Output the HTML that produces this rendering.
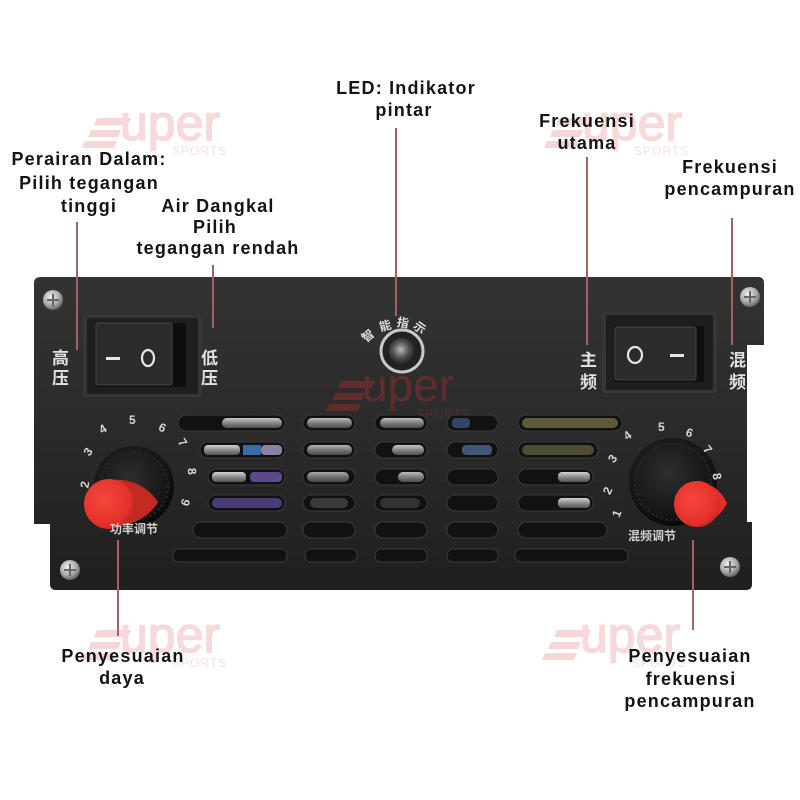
<!DOCTYPE html>
<html><head><meta charset="utf-8"><style>
html,body{margin:0;padding:0;background:#fff;}
svg{display:block;}
.lb{font-family:"Liberation Sans",Arial,sans-serif;font-weight:bold;font-size:18px;fill:#141414;letter-spacing:1.2px;}
.cn{font-family:"Liberation Sans","Noto Sans CJK SC",sans-serif;font-weight:bold;font-size:17px;fill:#e2e2e2;}
.num{font-family:"Liberation Sans",sans-serif;font-weight:bold;font-size:12px;fill:#d8d8d8;}
.cs{font-family:"Liberation Sans","Noto Sans CJK SC",sans-serif;font-size:12px;fill:#d0d0d0;}
.wmt{font-family:"Liberation Sans",sans-serif;font-size:50px;fill:#f6d9d9;stroke:#f6d9d9;stroke-width:1.5px;}
.wms{font-family:"Liberation Sans",sans-serif;font-size:12px;fill:#f1e2e2;letter-spacing:1px;}
</style></head><body>
<svg width="800" height="800" viewBox="0 0 800 800" xmlns="http://www.w3.org/2000/svg">
<defs>
<linearGradient id="pan" x1="0" y1="0" x2="0" y2="1">
<stop offset="0" stop-color="#333"/><stop offset="0.5" stop-color="#2a2a2a"/><stop offset="1" stop-color="#1f1f1f"/>
</linearGradient>
<radialGradient id="screw" cx="0.4" cy="0.35" r="0.7">
<stop offset="0" stop-color="#f2f2f2"/><stop offset="0.6" stop-color="#a8a8a8"/><stop offset="1" stop-color="#555"/>
</radialGradient>
<radialGradient id="knob" cx="0.45" cy="0.4" r="0.6">
<stop offset="0" stop-color="#2e2e2e"/><stop offset="0.8" stop-color="#151515"/><stop offset="1" stop-color="#070707"/>
</radialGradient>
<radialGradient id="red" cx="0.4" cy="0.4" r="0.7">
<stop offset="0" stop-color="#f5473c"/><stop offset="0.75" stop-color="#e3312a"/><stop offset="1" stop-color="#b81f1a"/>
</radialGradient>
<linearGradient id="lt" x1="0" y1="0" x2="0" y2="1">
<stop offset="0" stop-color="#e8e8e8"/><stop offset="0.5" stop-color="#9a9a9a"/><stop offset="1" stop-color="#5a5a5a"/>
</linearGradient>
<radialGradient id="led" cx="0.45" cy="0.45" r="0.6">
<stop offset="0" stop-color="#bbb"/><stop offset="0.5" stop-color="#555"/><stop offset="1" stop-color="#1a1a1a"/>
</radialGradient>
</defs>

<rect width="800" height="800" fill="#fff"/>

<!-- watermarks outside -->
<g>
<g transform="translate(0,0)">
<path d="M97 118 H131 L128 125 H94 Z M91 130 H121 L118 137 H88 Z M85 141 H117 L114 148 H82 Z" fill="#f6d6d6"/>
<text class="wmt" x="120" y="140">uper</text><text class="wms" x="172" y="155">SPORTS</text>
</g>
<g transform="translate(462,0)">
<path d="M97 118 H131 L128 125 H94 Z M91 130 H121 L118 137 H88 Z M85 141 H117 L114 148 H82 Z" fill="#f6d6d6"/>
<text class="wmt" x="120" y="140">uper</text><text class="wms" x="172" y="155">SPORTS</text>
</g>
<g transform="translate(0,512)">
<path d="M97 118 H131 L128 125 H94 Z M91 130 H121 L118 137 H88 Z M85 141 H117 L114 148 H82 Z" fill="#f6d6d6"/>
<text class="wmt" x="120" y="140">uper</text><text class="wms" x="172" y="155">SPORTS</text>
</g>
<g transform="translate(460,512)">
<path d="M97 118 H131 L128 125 H94 Z M91 130 H121 L118 137 H88 Z M85 141 H117 L114 148 H82 Z" fill="#f6d6d6"/>
<text class="wmt" x="120" y="140">uper</text><text class="wms" x="172" y="155">SPORTS</text>
</g>
</g>

<!-- panel -->
<path d="M41 277 H758 Q764 277 764 283 V345 H747 V522 H752 V584 Q752 590 746 590 H56 Q50 590 50 584 V524 H34 V283 Q34 277 41 277 Z" fill="url(#pan)"/>

<!-- panel watermark -->
<g transform="translate(244,263)" opacity="0.85">
<path d="M97 118 H131 L128 125 H94 Z M91 130 H121 L118 137 H88 Z M85 141 H117 L114 148 H82 Z" fill="#6a2c2c"/>
<text x="118" y="138" style="font-family:'Liberation Sans',sans-serif;font-size:46px;fill:#6a2c2c">uper</text>
<text x="172" y="155" style="font-family:'Liberation Sans',sans-serif;font-size:12px;fill:#5a3030;letter-spacing:1px">SPORTS</text>
</g>

<!-- screws -->
<g>
<circle cx="53" cy="300" r="10" fill="url(#screw)"/><path d="M47 300 H59 M53 294 V306" stroke="#666" stroke-width="2"/>
<circle cx="70" cy="570" r="10" fill="url(#screw)"/><path d="M64 570 H76 M70 564 V576" stroke="#666" stroke-width="2"/>
<circle cx="750" cy="297" r="10" fill="url(#screw)"/><path d="M744 297 H756 M750 291 V303" stroke="#666" stroke-width="2"/>
<circle cx="730" cy="567" r="10" fill="url(#screw)"/><path d="M724 567 H736 M730 561 V573" stroke="#666" stroke-width="2"/>
</g>

<!-- left switch -->
<rect x="83" y="315" width="119" height="82" rx="2" fill="#363636"/>
<rect x="87" y="318" width="111" height="76" fill="#1e1e1e"/>
<rect x="96" y="323" width="90" height="64" rx="2" fill="#0e0e0e"/>
<rect x="96" y="323" width="76" height="62" rx="2" fill="#2b2b2b" stroke="#444" stroke-width="1"/>
<rect x="106" y="357" width="14" height="3" fill="#e6e6e6"/>
<ellipse cx="148" cy="358" rx="6" ry="8" fill="none" stroke="#e6e6e6" stroke-width="2.2"/>

<!-- right switch -->
<rect x="602" y="312" width="115" height="81" rx="2" fill="#363636"/>
<rect x="606" y="315" width="107" height="75" fill="#1e1e1e"/>
<rect x="614" y="326" width="90" height="56" rx="2" fill="#0e0e0e"/>
<rect x="615" y="327" width="81" height="53" rx="2" fill="#2b2b2b" stroke="#444" stroke-width="1"/>
<ellipse cx="635" cy="355" rx="7" ry="8" fill="none" stroke="#e6e6e6" stroke-width="2.2"/>
<rect x="670" y="354" width="14" height="3" fill="#e6e6e6"/>

<!-- chinese vertical labels -->
<text class="cn" x="52" y="364">高</text><text class="cn" x="52" y="384">压</text>
<text class="cn" x="201" y="364">低</text><text class="cn" x="201" y="384">压</text>
<text class="cn" x="580" y="366">主</text><text class="cn" x="580" y="388">频</text>
<text class="cn" x="729" y="366">混</text><text class="cn" x="729" y="388">频</text>

<!-- LED -->
<circle cx="402" cy="351" r="21" fill="#222" stroke="#c8c8c8" stroke-width="3"/>
<circle cx="402" cy="351" r="13" fill="url(#led)"/>
<text class="cs" x="362" y="340" transform="rotate(-40 368 336)" style="font-weight:bold;fill:#ddd">智</text>
<text class="cs" x="379" y="330" transform="rotate(-15 385 325)" style="font-weight:bold;fill:#ddd">能</text>
<text class="cs" x="397" y="327" transform="rotate(10 403 322)" style="font-weight:bold;fill:#ddd">指</text>
<text class="cs" x="414" y="332" transform="rotate(35 420 327)" style="font-weight:bold;fill:#ddd">示</text>

<!-- vent slots -->
<g fill="#111" stroke="#3a3a3a" stroke-width="1">
<rect x="178" y="415" width="107" height="16" rx="8"/>
<rect x="200" y="442" width="85" height="16" rx="8"/>
<rect x="208" y="469" width="77" height="16" rx="8"/>
<rect x="208" y="495" width="77" height="16" rx="8"/>
<rect x="193" y="522" width="94" height="16" rx="8"/>
<rect x="173" y="549" width="114" height="13" rx="6"/>
<rect x="303" y="415" width="52" height="16" rx="8"/>
<rect x="303" y="442" width="52" height="16" rx="8"/>
<rect x="303" y="469" width="52" height="16" rx="8"/>
<rect x="303" y="495" width="52" height="16" rx="8"/>
<rect x="303" y="522" width="52" height="16" rx="8"/>
<rect x="305" y="549" width="52" height="13" rx="6"/>
<rect x="375" y="415" width="52" height="16" rx="8"/>
<rect x="375" y="442" width="52" height="16" rx="8"/>
<rect x="375" y="469" width="52" height="16" rx="8"/>
<rect x="375" y="495" width="52" height="16" rx="8"/>
<rect x="375" y="522" width="52" height="16" rx="8"/>
<rect x="375" y="549" width="52" height="13" rx="6"/>
<rect x="447" y="415" width="51" height="16" rx="8"/>
<rect x="447" y="442" width="51" height="16" rx="8"/>
<rect x="447" y="469" width="51" height="16" rx="8"/>
<rect x="447" y="495" width="51" height="16" rx="8"/>
<rect x="447" y="522" width="51" height="16" rx="8"/>
<rect x="447" y="549" width="51" height="13" rx="6"/>
<rect x="518" y="415" width="104" height="16" rx="8"/>
<rect x="518" y="442" width="80" height="16" rx="8"/>
<rect x="518" y="469" width="75" height="16" rx="8"/>
<rect x="518" y="495" width="75" height="16" rx="8"/>
<rect x="518" y="522" width="89" height="16" rx="8"/>
<rect x="515" y="549" width="113" height="13" rx="6"/>
</g>
<!-- reflections inside slots -->
<g>
<rect x="222" y="418" width="60" height="10" rx="5" fill="url(#lt)" opacity="0.85"/>
<rect x="204" y="445" width="36" height="10" rx="4" fill="url(#lt)" opacity="0.9"/>
<rect x="243" y="445" width="18" height="10" fill="#3a6aa8"/>
<rect x="261" y="445" width="21" height="10" rx="4" fill="#8a82a0"/>
<rect x="212" y="472" width="34" height="10" rx="4" fill="url(#lt)" opacity="0.9"/>
<rect x="250" y="472" width="32" height="10" rx="4" fill="#5a4a8a"/>
<rect x="212" y="498" width="70" height="10" rx="5" fill="#4a3c78"/>
<rect x="307" y="418" width="45" height="10" rx="5" fill="url(#lt)" opacity="0.8"/>
<rect x="307" y="445" width="45" height="10" rx="5" fill="url(#lt)" opacity="0.75"/>
<rect x="307" y="472" width="42" height="10" rx="5" fill="url(#lt)" opacity="0.7"/>
<rect x="310" y="498" width="38" height="10" rx="5" fill="#3a3a3a"/>
<rect x="380" y="418" width="44" height="10" rx="5" fill="url(#lt)" opacity="0.8"/>
<rect x="392" y="445" width="32" height="10" rx="5" fill="url(#lt)" opacity="0.85"/>
<rect x="398" y="472" width="26" height="10" rx="5" fill="url(#lt)" opacity="0.8"/>
<rect x="380" y="498" width="40" height="10" rx="5" fill="#333"/>
<rect x="452" y="418" width="18" height="10" rx="4" fill="#334466"/>
<rect x="462" y="445" width="30" height="10" rx="4" fill="#445577"/>
<rect x="522" y="418" width="96" height="10" rx="5" fill="#5c5a38"/>
<rect x="522" y="445" width="72" height="10" rx="5" fill="#4e4c32"/>
<rect x="558" y="472" width="32" height="10" rx="4" fill="url(#lt)" opacity="0.9"/>
<rect x="558" y="498" width="32" height="10" rx="4" fill="url(#lt)" opacity="0.9"/>
</g>

<!-- left knob -->
<circle cx="134" cy="486" r="40" fill="url(#knob)"/>
<circle cx="134" cy="486" r="34" fill="none" stroke="#2a2a2a" stroke-width="2" stroke-dasharray="2 3"/>
<path d="M112 480 C135 478 150 490 158 502 C150 516 135 524 118 526 Z" fill="#c22a22"/>
<circle cx="109" cy="504" r="25" fill="url(#red)"/>

<!-- right knob -->
<circle cx="673" cy="482" r="44" fill="url(#knob)"/>
<circle cx="673" cy="482" r="38" fill="none" stroke="#2a2a2a" stroke-width="2" stroke-dasharray="2 3"/>
<path d="M700 481 C712 484 722 492 727 503 C722 514 712 522 700 526 Z" fill="#e0302a"/>
<circle cx="697" cy="504" r="23" fill="url(#red)"/>

<!-- dial numbers left -->
<g class="num">
<text x="81" y="488" transform="rotate(-80 85 484)">2</text>
<text x="85" y="456" transform="rotate(-55 88 452)">3</text>
<text x="100" y="433" transform="rotate(-30 103 430)">4</text>
<text x="129" y="424">5</text>
<text x="159" y="432" transform="rotate(25 163 428)">6</text>
<text x="179" y="447" transform="rotate(55 183 443)">7</text>
<text x="188" y="476" transform="rotate(85 192 472)">8</text>
<text x="181" y="507" transform="rotate(110 185 503)">9</text>
</g>
<text class="cs" x="110" y="533" style="font-weight:bold">功率调节</text>

<!-- dial numbers right -->
<g class="num">
<text x="613" y="517" transform="rotate(-70 617 513)">1</text>
<text x="604" y="494" transform="rotate(-65 608 490)">2</text>
<text x="609" y="462" transform="rotate(-55 613 458)">3</text>
<text x="624" y="439" transform="rotate(-35 628 435)">4</text>
<text x="658" y="431">5</text>
<text x="686" y="437" transform="rotate(20 690 433)">6</text>
<text x="704" y="454" transform="rotate(50 708 450)">7</text>
<text x="713" y="481" transform="rotate(80 717 477)">8</text>
</g>
<text class="cs" x="628" y="540" style="font-weight:bold">混频调节</text>

<!-- leader lines -->
<g stroke="#a06464" stroke-width="2" fill="none">
<path d="M77 222 V350"/>
<path d="M213 265 V328"/>
<path d="M396 128 V316"/>
<path d="M587 157 V345"/>
<path d="M732 218 V345"/>
<path d="M118 540 V636"/>
<path d="M693 540 V630"/>
</g>

<!-- labels -->
<g class="lb" text-anchor="middle">
<text x="406" y="94">LED: Indikator</text>
<text x="404" y="116">pintar</text>
<text x="587" y="127">Frekuensi</text>
<text x="587" y="149">utama</text>
<text x="730" y="173">Frekuensi</text>
<text x="730" y="195">pencampuran</text>
<text x="89" y="165">Perairan Dalam:</text>
<text x="89" y="189">Pilih tegangan</text>
<text x="89" y="212">tinggi</text>
<text x="218" y="212">Air Dangkal</text>
<text x="215" y="233">Pilih</text>
<text x="218" y="254">tegangan rendah</text>
<text x="123" y="662">Penyesuaian</text>
<text x="122" y="684">daya</text>
<text x="690" y="662">Penyesuaian</text>
<text x="691" y="685">frekuensi</text>
<text x="690" y="707">pencampuran</text>
</g>
</svg>
</body></html>
